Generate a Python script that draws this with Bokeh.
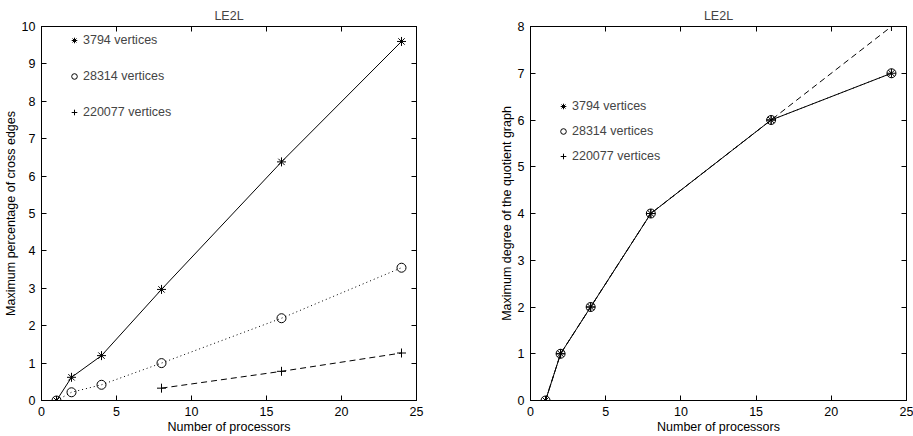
from bokeh.plotting import figure
from bokeh.models import (Range1d, LinearAxis, SingleIntervalTicker, Legend, LegendItem,
                          CustomJSTickFormatter)
from bokeh.layouts import row
from bokeh.embed import file_html
from bokeh.resources import INLINE

# ---- data ----
procs = [1, 2, 4, 8, 16, 24]
procs_large = [8, 16, 24]
labels = ["3794 vertices", "28314 vertices", "220077 vertices"]

cross_3794 = [0.0, 0.62, 1.2, 2.97, 6.38, 9.6]
cross_28314 = [0.0, 0.22, 0.42, 1.0, 2.2, 3.55]
cross_220077 = [0.33, 0.78, 1.27]

deg_3794 = [0, 1, 2, 4, 6, 7]
deg_28314 = [0, 1, 2, 4, 6, 7]
deg_220077 = [0, 1, 2, 4, 6, 8]

FONT = "Liberation Sans"
FS = "12.5px"


def make_fig(width, ymax, ylabel, bl, br):
    p = figure(width=width, height=436, output_backend="svg", toolbar_location=None,
               x_range=Range1d(0, 25), y_range=Range1d(0, ymax),
               min_border_left=bl, min_border_right=br, min_border_top=26, min_border_bottom=35)
    p.title.text = "LE2L"
    p.title.align = "center"
    p.title.text_font = FONT
    p.title.text_font_size = FS
    p.title.text_font_style = "normal"
    p.title.standoff = 0
    p.grid.visible = False
    p.outline_line_color = "black"
    p.outline_line_width = 1
    p.background_fill_color = "white"
    p.border_fill_color = "white"
    p.xaxis.ticker = SingleIntervalTicker(interval=5)
    p.yaxis.ticker = SingleIntervalTicker(interval=1)
    p.xaxis.axis_label = "Number of processors"
    p.yaxis.axis_label = ylabel
    for ax in (p.xaxis[0], p.yaxis[0]):
        ax.major_tick_in = 5
        ax.major_tick_out = 0
        ax.minor_tick_line_color = None
        ax.axis_line_color = "black"
        ax.major_tick_line_color = "black"
        ax.major_label_text_font = FONT
        ax.major_label_text_font_size = FS
        ax.major_label_text_color = "black"
        ax.axis_label_text_font = FONT
        ax.axis_label_text_font_size = FS
        ax.axis_label_text_font_style = "normal"
        ax.axis_label_text_color = "black"
        ax.major_label_standoff = 2
        ax.axis_label_standoff = 1
    blank = CustomJSTickFormatter(code="return '';")
    top = LinearAxis(ticker=SingleIntervalTicker(interval=5), major_tick_in=5, major_tick_out=0,
                     minor_tick_line_color=None, formatter=blank,
                     major_label_standoff=0, axis_line_color="black", major_tick_line_color="black")
    right = LinearAxis(ticker=SingleIntervalTicker(interval=1), major_tick_in=5, major_tick_out=0,
                       minor_tick_line_color=None, formatter=blank,
                       major_label_standoff=0, axis_line_color="black", major_tick_line_color="black")
    p.add_layout(top, "above")
    p.add_layout(right, "right")
    return p


def add_legend(p, items, y_from_bottom, spacing):
    leg = Legend(items=items, location=(26, y_from_bottom), border_line_alpha=0,
                 background_fill_alpha=0, padding=0, margin=0, glyph_width=14, glyph_height=20,
                 label_height=20, spacing=spacing, label_standoff=2,
                 label_text_font=FONT, label_text_font_size=FS)
    p.add_layout(leg, "center")


# ---- left figure ----
p1 = make_fig(460, 10, "Maximum percentage of cross edges", 41, 44)
p1.line(procs, cross_3794, line_color="black", line_width=1)
p1.line(procs, cross_28314, line_color="black", line_width=1, line_dash="1 3")
p1.line(procs_large, cross_220077, line_color="black", line_width=1, line_dash="6 4")
r1 = p1.scatter(procs, cross_3794, marker="asterisk", size=9, line_color="black")
r2 = p1.scatter(procs, cross_28314, marker="circle", size=9, line_color="black", fill_color=None)
r3 = p1.scatter(procs_large, cross_220077, marker="cross", size=9, line_color="black")
add_legend(p1, [LegendItem(label=labels[0], renderers=[r1]),
                LegendItem(label=labels[1], renderers=[r2]),
                LegendItem(label=labels[2], renderers=[r3])], 278, 16)

# ---- right figure ----
p2 = make_fig(453, 8, "Maximum degree of the quotient graph", 70, 7)
p2.line(procs, deg_220077, line_color="black", line_width=1, line_dash="6 4")
p2.line(procs, deg_28314, line_color="black", line_width=1, line_dash="1 3")
p2.line(procs, deg_3794, line_color="black", line_width=1)
s1 = p2.scatter(procs, deg_3794, marker="asterisk", size=9, line_color="black")
s2 = p2.scatter(procs, deg_28314, marker="circle", size=9, line_color="black", fill_color=None)
s3 = p2.scatter(procs, deg_220077, marker="cross", size=9, line_color="black")
add_legend(p2, [LegendItem(label=labels[0], renderers=[s1]),
                LegendItem(label=labels[1], renderers=[s2]),
                LegendItem(label=labels[2], renderers=[s3])], 234, 5)

layout = row(p1, p2)
open("out.html", "w").write(file_html(layout, INLINE))
